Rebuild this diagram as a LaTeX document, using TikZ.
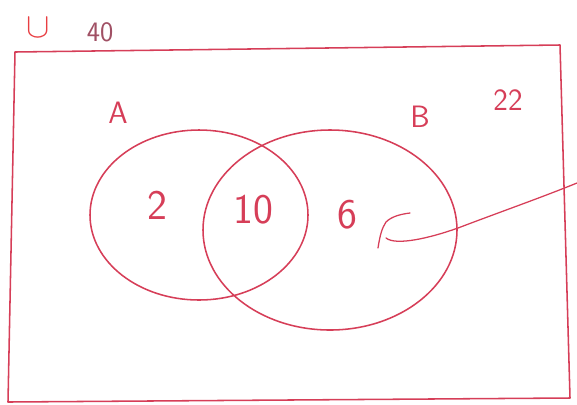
\documentclass[tikz,border=0pt]{standalone}
\usepackage{tikz}
\usetikzlibrary{arrows.meta}
\definecolor{pen}{RGB}{214,62,88}
\definecolor{pentext}{RGB}{160,80,100}
\definecolor{penred}{RGB}{232,62,66}

\begin{document}
\begin{tikzpicture}[
    x=0.025cm, y=-0.025cm,
    line/.style={draw=pen, line width=1.1pt, line join=round, line cap=round},
    lbl/.style={text=pen, inner sep=0pt, font=\sffamily\fontsize{22}{22}\selectfont},
    num/.style={text=pen, inner sep=0pt, font=\sffamily\fontsize{30}{30}\selectfont}
]
    \useasboundingbox (0,0) rectangle (577,404);

    % 全集 (矩形)
    \coordinate (TL) at (15,52);
    \coordinate (TR) at (560,45);
    \coordinate (BR) at (570,398);
    \coordinate (BL) at (8,402);
    \draw[line] (TL) -- (TR) -- (BR) -- (BL) -- cycle;

    % 全集符号与总数
    \node[text=penred, inner sep=0pt, font=\sffamily\fontsize{24}{24}\selectfont] (U) at (38,28) {$\cup$};
    \node[text=pentext, inner sep=0pt, font=\sffamily\fontsize{20}{20}\selectfont] (N) at (100,32) {40};

    % 两个集合
    \draw[line] (199,215) ellipse [x radius=109, y radius=85];
    \draw[line] (330,230) ellipse [x radius=127, y radius=100];

    % 集合名称
    \node[lbl] (A) at (118,113) {A};
    \node[lbl] (B) at (420,117) {B};
    \node[lbl] (out) at (508,100) {22};

    % 区域内的数
    \node[num] (onlyA) at (157,205) {2};
    \node[num] (AB) at (253,210) {10};
    \node[num] (onlyB) at (347,215) {6};

    % 标记与引线
    \coordinate (tick) at (386,238);
    \coordinate (edge) at (577,183);
    \draw[line, line width=0.9pt] (378,248) .. controls (380,235) and (382,228) .. (386,222)
        .. controls (392,216) and (402,214) .. (410,213);
    \draw[line, line width=0.9pt] (tick) .. controls (396,246) and (430,238) .. (458,228)
        .. controls (500,212) and (540,198) .. (edge);
\end{tikzpicture}
\end{document}
